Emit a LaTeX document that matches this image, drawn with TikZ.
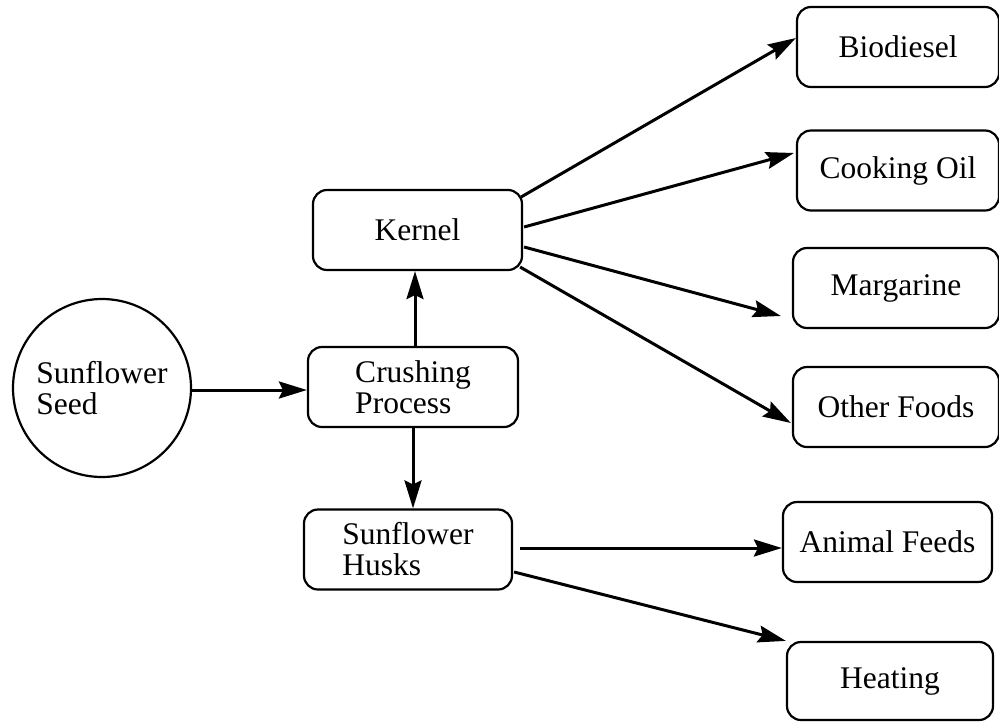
\documentclass[tikz,border=0pt]{standalone}
\usepackage{fontspec}
\setmainfont[Ligatures=NoCommon]{Liberation Serif}
\usepackage{tikz}
\usetikzlibrary{shapes,positioning,calc}
\usetikzlibrary{arrows.meta}

\begin{document}
\begin{tikzpicture}[x=1pt, y=-1pt,
    label text/.style={font=\fontsize{31.5}{31}\selectfont, align=left},
    box/.style={draw, line width=2.2pt, rounded corners=14pt, minimum height=80pt, label text},
    flow/.style={-{Stealth[length=28pt, width=17pt, inset=4pt]}, line width=3pt}]
    \useasboundingbox (0,0) rectangle (999,721);

    % left part
    \node (seed) [circle, draw, line width=2.2pt, minimum size=178pt, inner sep=0pt, label text] at (102,388) {Sunflower\\Seed};
    \node (crush) [box, minimum width=210pt] at (413,387) {Crushing\\Process};
    \node (kernel) [box, minimum width=209pt] at (417.5,230) {Kernel};
    \node (husks) [box, minimum width=208pt] at (408,549.5) {Sunflower\\Husks};

    % products
    \node (bio) [box, minimum width=202pt] at (898,47) {Biodiesel};
    \node (cook) [box, minimum width=202pt] at (898,170.5) {Cooking Oil};
    \node (marg) [box, minimum width=206pt] at (896,288) {Margarine};
    \node (other) [box, minimum width=206pt] at (896,407) {Other Foods};
    \node (feeds) [box, minimum width=209pt] at (887.5,542) {Animal Feeds};
    \node (heat) [box, minimum width=206pt, minimum height=78pt] at (890,681) {Heating};

    \draw [flow] ($(seed.east)+(0,2)$) -- ($(crush.west)+(0,3)$);
    \draw [flow] ($(crush.north)+(2,0)$) -- ($(crush.north |- kernel.south)+(2,0)$);
    \draw [flow] (crush.south) -- (crush.south |- husks.north);

    \foreach \t/\a/\b in {bio/{-2,-33}/{0,-9}, cook/{1,-3}/{-2,-17.5},
                          marg/{1,17}/{-11,28}, other/{-3,37}/{-1,16}}{
        \draw [flow] ($(kernel.east)+(\a)$) -- ($(\t.west)+(\b)$);
    }
    \draw [flow] ($(husks.east)+(7,-1.5)$) -- ($(feeds.west)+(0,6)$);
    \draw [flow] ($(husks.east)+(1,22.5)$) -- (heat.north west);
\end{tikzpicture}
\end{document}
